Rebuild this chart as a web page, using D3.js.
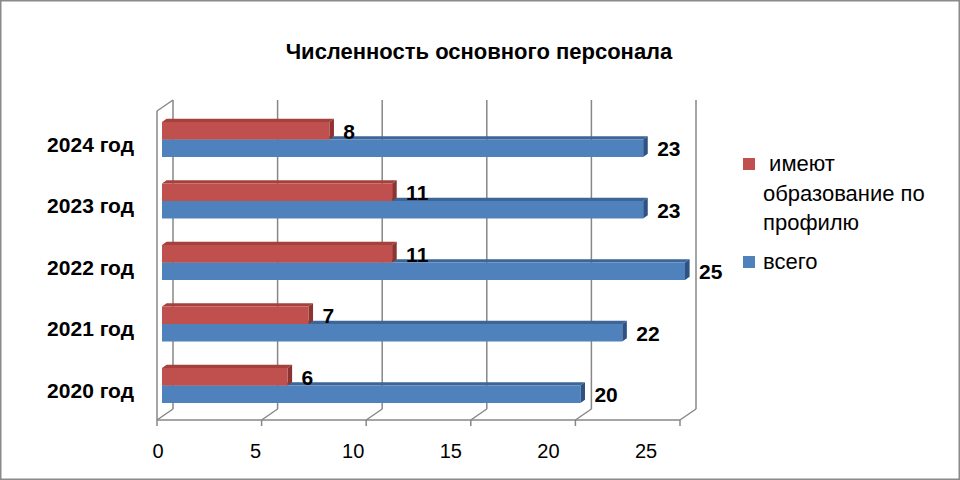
<!DOCTYPE html>
<html><head><meta charset="utf-8">
<script src="https://cdn.jsdelivr.net/npm/d3@7"></script>
<style>
html,body{margin:0;padding:0;background:#fff;}
svg{display:block;}
text{font-family:"Liberation Sans",Arial,sans-serif;fill:#000;}
</style></head>
<body>
<svg id="chart" width="960" height="480"></svg>
<script>
const title = "Численность основного персонала";
const categories = ["2020 год","2021 год","2022 год","2023 год","2024 год"];
const seriesNames = ["имеют образование по профилю","всего"];
const legendLines = [[" имеют","образование по","профилю"],["всего"]];
const profileValues = [6,7,11,11,8];
const totalValues = [20,22,25,23,23];
const xTicks = [0,5,10,15,20,25];

const colors = {
  "имеют образование по профилю": {front:"#C0504D", top:"#A5403D", side:"#8C3431"},
  "всего": {front:"#4F81BD", top:"#3D6596", side:"#2E5283"}
};

const svg = d3.select("#chart");
svg.append("rect").attr("x",0.75).attr("y",0.75).attr("width",958.5).attr("height",478.5)
  .attr("fill","#fff").attr("stroke","#8a8a8a").attr("stroke-width",1.5);

// 3D frame geometry
const xFront = d3.scaleLinear().domain([0,25]).range([157,680]);
const yTopF = 111, yBotF = 420;
const depth = {dx:16, dy:-11};
const barShift = {dx:5, dy:-3.4};
const barDepth = {dx:4.6, dy:-3.2};
const labelScale = d3.scaleLinear().domain([0,25]).range([158,646]);

const y = d3.scaleBand().domain(categories.slice().reverse()).range([108.75,416.25]).padding(0);
const ySub = d3.scaleBand().domain(seriesNames).range([13.25,48.25]);

const grid = "#878787";
const g = svg.append("g");
// back wall gridlines
g.selectAll(".bg").data(xTicks).join("line")
  .attr("x1",d=>xFront(d)+depth.dx).attr("x2",d=>xFront(d)+depth.dx)
  .attr("y1",yTopF+depth.dy).attr("y2",yBotF+depth.dy)
  .attr("stroke",grid).attr("stroke-width",1.5);
// left wall
g.append("line").attr("x1",xFront(0)).attr("x2",xFront(0)).attr("y1",yTopF).attr("y2",yBotF)
  .attr("stroke",grid).attr("stroke-width",1.5);
g.append("line").attr("x1",xFront(0)).attr("x2",xFront(0)+depth.dx).attr("y1",yTopF).attr("y2",yTopF+depth.dy)
  .attr("stroke",grid).attr("stroke-width",1.5);
// floor
g.append("line").attr("x1",xFront(0)).attr("x2",xFront(25)).attr("y1",yBotF).attr("y2",yBotF)
  .attr("stroke",grid).attr("stroke-width",1.5);
g.selectAll(".fd").data(xTicks).join("line")
  .attr("x1",d=>xFront(d)).attr("x2",d=>xFront(d)+depth.dx)
  .attr("y1",yBotF).attr("y2",yBotF+depth.dy)
  .attr("stroke",grid).attr("stroke-width",1.5);
g.selectAll(".tk").data(xTicks).join("line")
  .attr("x1",d=>xFront(d)).attr("x2",d=>xFront(d))
  .attr("y1",yBotF).attr("y2",yBotF+6)
  .attr("stroke",grid).attr("stroke-width",1.5);

// bars
const rows = [];
categories.forEach((c,i)=>{
  rows.push({cat:c, s:seriesNames[1], v:totalValues[i]});
  rows.push({cat:c, s:seriesNames[0], v:profileValues[i]});
});
const bars = svg.append("g");
rows.forEach(r=>{
  const x0 = xFront(0)+barShift.dx, x1 = xFront(r.v)+barShift.dx;
  const y0 = y(r.cat)+ySub(r.s), h = ySub.bandwidth();
  const c = colors[r.s];
  const bx = barDepth.dx, by = barDepth.dy;
  const gb = bars.append("g");
  gb.append("path").attr("d",`M${x0},${y0}L${x0+bx},${y0+by}L${x1+bx},${y0+by}L${x1},${y0}Z`).attr("fill",c.top);
  gb.append("path").attr("d",`M${x1},${y0}L${x1+bx},${y0+by}L${x1+bx},${y0+h+by}L${x1},${y0+h}Z`).attr("fill",c.side);
  gb.append("rect").attr("x",x0).attr("y",y0).attr("width",x1-x0).attr("height",h).attr("fill",c.front);
});

// value labels
svg.append("g").selectAll("text").data(rows).join("text")
  .attr("x",d=>xFront(d.v)+barShift.dx+14)
  .attr("y",d=>y(d.cat)+ySub(d.s)+ySub.bandwidth()/2+8)
  .attr("font-size",21).attr("font-weight","bold")
  .text(d=>d.v);

// category labels
svg.append("g").selectAll("text").data(categories).join("text")
  .attr("x",134).attr("y",d=>y(d)+y.bandwidth()/2+12)
  .attr("text-anchor","end").attr("font-size",21).attr("font-weight","bold")
  .text(d=>d);

// x tick labels
svg.append("g").selectAll("text").data(xTicks).join("text")
  .attr("x",d=>labelScale(d)).attr("y",457.5).attr("text-anchor","middle")
  .attr("font-size",20).text(d=>d);

// title
svg.append("text").attr("x",479).attr("y",59).attr("text-anchor","middle")
  .attr("font-size",22).attr("font-weight","bold").text(title);

// legend
const leg = svg.append("g");
const legY = [158,256];
seriesNames.forEach((s,i)=>{
  leg.append("rect").attr("x",743).attr("y",legY[i]).attr("width",12).attr("height",12).attr("fill",colors[s].front);
  const t = leg.append("text").attr("x",763).attr("y",legY[i]+13).attr("font-size",22).attr("xml:space","preserve");
  legendLines[i].forEach((ln,j)=>{
    t.append("tspan").attr("x",763).attr("dy",j===0?0:29.5).text(ln);
  });
});
</script>
</body></html>
